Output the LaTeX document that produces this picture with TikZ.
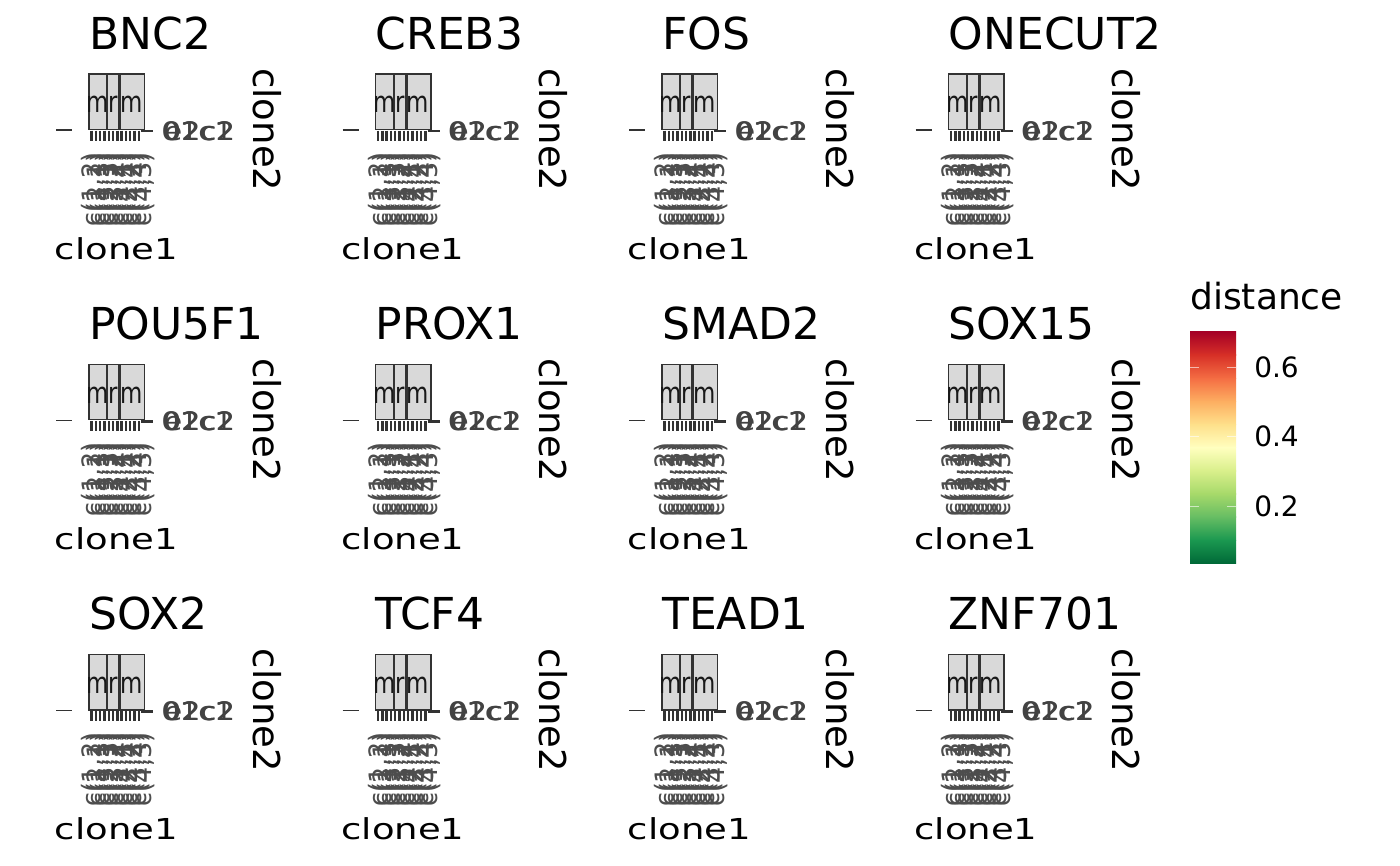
\documentclass[tikz,border=0pt]{standalone}
\usepackage{graphicx}
\usepackage{fontspec}
\setmainfont{DejaVu Sans}
\definecolor{axisgrey}{HTML}{4D4D4D}
\definecolor{stripfill}{HTML}{D9D9D9}
\definecolor{stripline}{HTML}{333333}
\definecolor{rdyl0}{HTML}{A50026}
\definecolor{rdyl1}{HTML}{D73027}
\definecolor{rdyl2}{HTML}{F46D43}
\definecolor{rdyl3}{HTML}{FDAE61}
\definecolor{rdyl4}{HTML}{FEE08B}
\definecolor{rdyl5}{HTML}{FFFFBF}
\definecolor{rdyl6}{HTML}{D9EF8B}
\definecolor{rdyl7}{HTML}{A6D96A}
\definecolor{rdyl8}{HTML}{66BD63}
\definecolor{rdyl9}{HTML}{1A9850}
\definecolor{rdyl10}{HTML}{006837}
\tikzset{
  gene/.style={anchor=base west, inner sep=0pt, font=\fontsize{33}{33}\selectfont},
  facet/.style={draw=stripline, fill=stripfill, line width=1.1pt},
  facetlab/.style={anchor=base, inner sep=0pt, text=black!90, font=\fontsize{22}{22}\selectfont},
  axtick/.style={draw=stripline, line width=1.8pt},
  axlab/.style={anchor=west, inner sep=0pt, text=axisgrey!85!black, font=\fontsize{19}{19}\selectfont},
  binlab/.style={rotate=90, anchor=east, inner sep=0pt, text=axisgrey, font=\fontsize{19}{19}\selectfont},
  axtitle/.style={inner sep=0pt, font=\fontsize{27.75}{27.75}\selectfont},
  legtick/.style={draw=white, opacity=0.6, line width=1pt},
  leglab/.style={anchor=west, inner sep=0pt, font=\fontsize{21}{21}\selectfont}
}
\begin{document}
\begin{tikzpicture}[x=0.75pt, y=-0.75pt]
  \useasboundingbox (0,0) rectangle (1400,866);
  \foreach \gname [count=\k from 0] in {BNC2,CREB3,FOS,ONECUT2,POU5F1,PROX1,SMAD2,SOX15,SOX2,TCF4,TEAD1,ZNF701}{
    \pgfmathtruncatemacro{\col}{mod(\k,4)}
    \pgfmathtruncatemacro{\row}{int(\k/4)}
    \begin{scope}[shift={(286.5*\col,290.3*\row)}]
      \node[gene] (title\k) at (89,49.3) {\gname};
      \draw[facet] (89,74) rectangle (107,129.3);
      \draw[facet] (107.7,74) rectangle (119,129.3);
      \draw[facet] (120.3,74) rectangle (144.3,129.3);
      \node[facetlab] (stripa\k) at (98,113) {\scalebox{0.78}[1]{m}};
      \node[facetlab] (stripb\k) at (113.3,113) {\scalebox{0.78}[1]{r}};
      \node[facetlab] (stripc\k) at (131.5,113) {\scalebox{0.78}[1]{m}};
      \foreach \i in {0,...,11}
        \draw[axtick] (91.5+4.3*\i,130.7) -- ++(0,10);
      \draw[axtick, line width=2.2pt] (141,131) -- (153,131);
      \draw[black!80, line width=1.1pt] (56,130) -- (72,130);
      \node[axlab] (ylaba\k) at (161,131) {\scalebox{1.15}[1]{01c1}};
      \node[axlab] (ylabb\k) at (162.5,131) {\scalebox{1.15}[1]{02c2}};
      \node[axlab] (ylabc\k) at (164,131) {\scalebox{1.15}[1]{e2c2}};
      \foreach \b [count=\i from 0] in {{c(1,2)},{c(2,1)},{c(1,3)},{c(3,1)},{c(2,3)},{c(3,2)},{c(1,4)},{c(4,1)},{c(2,4)},{c(4,2)},{c(3,4)},{c(4,3)}}
        \node[binlab] (xlab\k-\i) at (92.6+4.6*\i,152) {\b};
      \node[axtitle, anchor=base west] (xtitle\k) at (54.7,259.3) {\scalebox{1}[0.78]{clone1}};
      \node[axtitle, anchor=base west, rotate=-90] (ytitle\k) at (253,68) {clone2};
    \end{scope}
  }
  \node[anchor=base west, inner sep=0pt, font=\fontsize{27}{27}\selectfont] (legtitle) at (1190,310) {distance};
  \foreach \i in {0,...,9}{
    \pgfmathtruncatemacro{\j}{\i+1}
    \shade[top color=rdyl\i, bottom color=rdyl\j] (1190,331.7+23.16*\i) rectangle (1236,331.7+23.16*\i+23.5);
  }
  \foreach \v/\yy [count=\n] in {0.6/367.3,0.4/436.7,0.2/506.7}{
    \draw[legtick] (1190,\yy) -- ++(9,0);
    \draw[legtick] (1236,\yy) -- ++(-9,0);
    \node[leglab] (leglab\n) at (1254,\yy) {\v};
  }
\end{tikzpicture}
\end{document}
